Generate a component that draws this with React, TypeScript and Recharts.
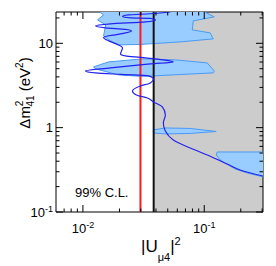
import {
  ComposedChart,
  XAxis,
  YAxis,
  Scatter,
  ReferenceArea,
  Customized,
} from "recharts";

const FONT = '"Liberation Sans", Arial, Helvetica, sans-serif';

// axis ranges
const xDomain = [0.006, 0.305];
const yDomain = [0.1, 23.5];

// tick marks
const xTicks = [0.007, 0.008, 0.009, 0.01, 0.02, 0.03, 0.04, 0.05, 0.06, 0.07, 0.08, 0.09, 0.1, 0.2, 0.3];
const xMajorTicks = [0.01, 0.1];
const xMajorLabels = [["10", "-2"], ["10", "-1"]];
const yTicks = [0.1, 0.2, 0.3, 0.4, 0.5, 0.6, 0.7, 0.8, 0.9, 1, 2, 3, 4, 5, 6, 7, 8, 9, 10, 20];
const yMajorTicks = [0.1, 1, 10];
const yMajorLabels = [["10", "-1"], ["1", ""], ["10", ""]];

// limits
const redLimit = 0.0298;
const blackLimit = 0.0383;

// blue exclusion curve (|U|^2, dm2)
const curveU = [0.0526, 0.036, 0.0237, 0.0212, 0.0247, 0.036, 0.0396, 0.0328, 0.0169, 0.0127, 0.0154, 0.0224, 0.0251, 0.0204, 0.0148, 0.0163, 0.0197, 0.0212, 0.0208, 0.0204, 0.0224, 0.0298, 0.046, 0.0556, 0.036, 0.0169, 0.0105, 0.0127, 0.0204, 0.0347, 0.0381, 0.036, 0.0298, 0.0256, 0.0276, 0.034, 0.0381, 0.0452, 0.0478, 0.046, 0.0478, 0.0556, 0.0767, 0.106, 0.1545, 0.1976, 0.305];
const curveDm2 = [23.5, 22.4, 21.7, 20.8, 20.0, 19.7, 18.95, 17.95, 17.0, 16.1, 15.2, 14.6, 14.03, 12.93, 11.75, 10.68, 9.57, 8.82, 8.12, 7.49, 7.09, 6.8, 6.36, 6.02, 5.7, 5.11, 4.71, 4.46, 4.28, 4.11, 3.78, 3.39, 3.12, 2.72, 2.44, 2.25, 2.02, 1.76, 1.41, 1.14, 0.914, 0.715, 0.574, 0.474, 0.371, 0.315, 0.267];

// allowed regions (closed contours)
const topBlobU = [0.01346, 0.0981, 0.1208, 0.0812, 0.0797, 0.112, 0.1186, 0.0635, 0.0298, 0.01965, 0.0169, 0.0148, 0.0154, 0.0132, 0.0148, 0.01346];
const topBlobDm2 = [24, 24, 20.57, 18.44, 14.42, 13.29, 11.28, 10.39, 9.7, 9.57, 10.68, 12.24, 16.53, 18.95, 21.73, 24];
const midBlobU = [0.01224, 0.01626, 0.0309, 0.0578, 0.1058, 0.1208, 0.1186, 0.0556, 0.0309, 0.01965, 0.0127, 0.01224];
const midBlobDm2 = [5.25, 6.02, 6.53, 6.36, 5.86, 4.71, 4.46, 4.22, 4.05, 4.22, 4.97, 5.25];
const smallBlobU = [0.0381, 0.0478, 0.0767, 0.1255, 0.0767, 0.0478, 0.0381, 0.0381];
const smallBlobDm2 = [0.939, 0.992, 0.978, 0.901, 0.854, 0.842, 0.865, 0.939];
const lowBlobU = [0.32, 0.1279, 0.1255, 0.1354, 0.1575, 0.1797, 0.2256, 0.32, 0.32];
const lowBlobDm2 = [0.515, 0.515, 0.474, 0.414, 0.361, 0.3237, 0.29, 0.2567, 0.515];

const zip = (xs: number[], ys: number[]) => xs.map((x, i) => ({ x, y: ys[i] }));

const blobs = [
  zip(topBlobU, topBlobDm2),
  zip(midBlobU, midBlobDm2),
  zip(smallBlobU, smallBlobDm2),
  zip(lowBlobU, lowBlobDm2),
];
const curve = zip(curveU, curveDm2);
const redLine = zip([redLimit, redLimit], [0.09, 25]);
const blackLine = zip([blackLimit, blackLimit], [0.09, 25]);

const majorIndex = (list: number[], v: number) =>
  list.findIndex((t) => Math.abs(t - v) < 1e-9);

function XTickBottom(props: any) {
  const { x, y, payload } = props;
  const i = majorIndex(xMajorTicks, payload.value);
  const len = i >= 0 ? 7 : 3.5;
  return (
    <g>
      <line x1={x} x2={x} y1={y} y2={y - len} stroke="#000" />
      {i >= 0 && (
        <text x={x} y={y + 21} textAnchor="middle" fontSize={13} fontFamily={FONT} fill="#000">
          {xMajorLabels[i][0]}
          <tspan dy={-5} fontSize={9}>{xMajorLabels[i][1]}</tspan>
        </text>
      )}
    </g>
  );
}

function XTickTop(props: any) {
  const { x, y, payload } = props;
  const len = majorIndex(xMajorTicks, payload.value) >= 0 ? 7 : 3.5;
  return <line x1={x} x2={x} y1={y} y2={y + len} stroke="#000" />;
}

function YTickLeft(props: any) {
  const { x, y, payload } = props;
  const i = majorIndex(yMajorTicks, payload.value);
  const len = i >= 0 ? 7 : 3.5;
  return (
    <g>
      <line x1={x} x2={x + len} y1={y} y2={y} stroke="#000" />
      {i >= 0 && (
        <text x={x - 3} y={y + 4.5} textAnchor="end" fontSize={13} fontFamily={FONT} fill="#000">
          {yMajorLabels[i][0]}
          {yMajorLabels[i][1] && (
            <tspan dy={-5} fontSize={9}>{yMajorLabels[i][1]}</tspan>
          )}
        </text>
      )}
    </g>
  );
}

function YTickRight(props: any) {
  const { x, y, payload } = props;
  const len = majorIndex(yMajorTicks, payload.value) >= 0 ? 7 : 3.5;
  return <line x1={x} x2={x - len} y1={y} y2={y} stroke="#000" />;
}

function Titles() {
  return (
    <g fontFamily={FONT} fill="#000">
      <text x={141} y={252} fontSize={17}>
        |U
        <tspan fontSize={11} dy={9}>μ4</tspan>
        <tspan fontSize={17} dy={-9}>|</tspan>
        <tspan fontSize={11} dy={-7}>2</tspan>
      </text>
      <text transform="translate(30,93) rotate(-90)" textAnchor="middle" fontSize={15}>
        Δm
        <tspan fontSize={10} dy={-7}>2</tspan>
        <tspan fontSize={10} dx={-6} dy={11}>41</tspan>
        <tspan fontSize={15} dy={-4}> (eV</tspan>
        <tspan fontSize={10} dy={-7}>2</tspan>
        <tspan fontSize={15} dy={7}>)</tspan>
      </text>
      <text x={75} y={197} fontSize={13}>99% C.L.</text>
    </g>
  );
}

const NoDot = () => <g />;

export default function App() {
  const axisCommon = {
    type: "number" as const,
    scale: "log" as const,
    allowDataOverflow: true,
    interval: 0 as const,
    tickLine: false,
    tickSize: 0,
    tickMargin: 0,
    axisLine: { stroke: "#000" },
  };
  return (
    <div style={{ position: "absolute", left: 0, top: 0 }}>
      <ComposedChart width={276} height={266} margin={{ top: 0, right: 0, bottom: 0, left: 0 }}>
        <XAxis {...axisCommon} dataKey="x" domain={xDomain} ticks={xTicks} tick={XTickBottom} height={54} />
        <XAxis {...axisCommon} xAxisId="top" orientation="top" dataKey="x" domain={xDomain} ticks={xTicks} tick={XTickTop} height={12} />
        <YAxis {...axisCommon} dataKey="y" domain={yDomain} ticks={yTicks} tick={YTickLeft} width={56} />
        <YAxis {...axisCommon} yAxisId="right" orientation="right" dataKey="y" domain={yDomain} ticks={yTicks} tick={YTickRight} width={13} />
        <ReferenceArea x1={blackLimit} x2={xDomain[1]} fill="#cccccc" fillOpacity={1} stroke="none" ifOverflow="hidden" />
        {blobs.map((b, i) => (
          <Scatter
            key={i}
            data={b}
            shape={NoDot}
            line={{ stroke: "#4a9af5", strokeWidth: 1, fill: "#99ccff" }}
            lineJointType="linear"
            isAnimationActive={false}
          />
        ))}
        <Scatter
          data={redLine}
          shape={NoDot}
          line={{ stroke: "#ff1a1a", strokeWidth: 2, fill: "none" }}
          isAnimationActive={false}
        />
        <Scatter
          data={blackLine}
          shape={NoDot}
          line={{ stroke: "#111111", strokeWidth: 2, fill: "none" }}
          isAnimationActive={false}
        />
        <Scatter
          data={curve}
          shape={NoDot}
          line={{ stroke: "#2222ee", strokeWidth: 1.2, fill: "none" }}
          lineJointType="monotoneY"
          isAnimationActive={false}
        />
        <Customized component={Titles} />
      </ComposedChart>
    </div>
  );
}
